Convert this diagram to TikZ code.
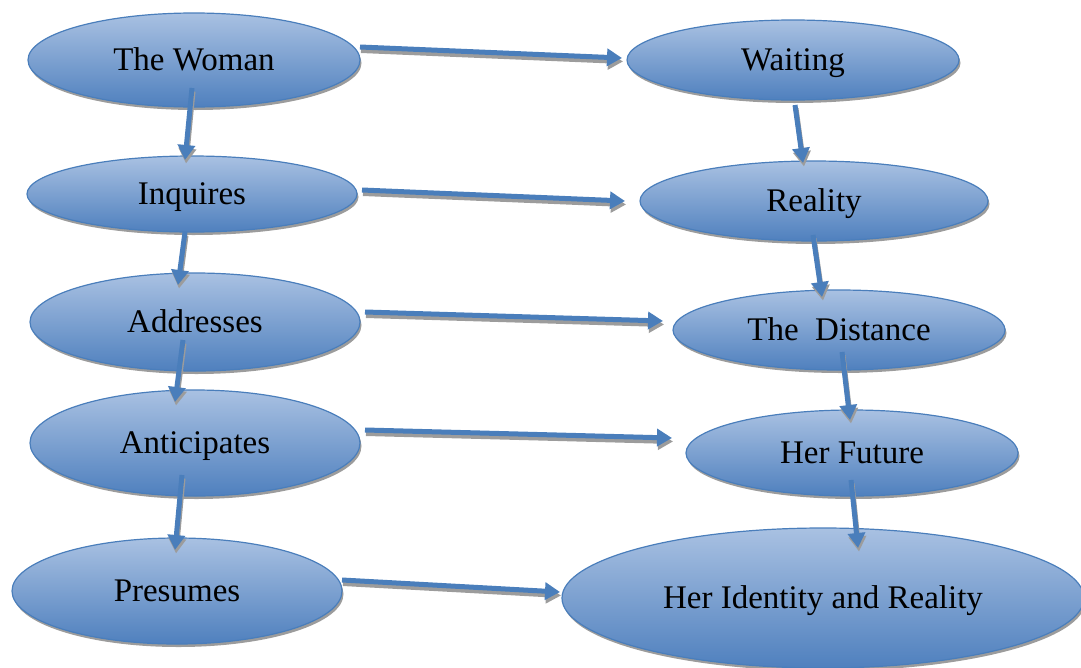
\documentclass[tikz,border=0pt]{standalone}
\usepackage{fontspec}
\setmainfont{Liberation Serif}
\usetikzlibrary{shapes.geometric,arrows.meta,shadows}
\definecolor{edgeblue}{HTML}{4A7EBB}
\definecolor{topblue}{HTML}{A9C1E2}
\definecolor{botblue}{HTML}{4F80BE}
\definecolor{shadowgray}{HTML}{9C9C9C}
\begin{document}
\begin{tikzpicture}[x=1pt,y=-1pt,
  oval/.style={ellipse, draw=edgeblue, line width=1.2pt, top color=topblue, bottom color=botblue,
    inner sep=0pt, font=\fontsize{33}{38}\selectfont, text height=21pt, text depth=1pt,
    drop shadow={shadow xshift=1.5pt, shadow yshift=-3pt, fill=shadowgray, opacity=1}},
  arr/.style={draw=edgeblue, line width=5pt, -{Triangle[width=17pt,length=15pt]},
    preaction={draw=shadowgray, line width=5pt, -{Triangle[width=17pt,length=15pt]},
      transform canvas={shift={(1pt,-3.5pt)}}}}]
\useasboundingbox (0,0) rectangle (1081,667);
\node[oval, minimum width=332pt, minimum height=94pt] (woman) at (194,60) {The Woman};
\node[oval, minimum width=332pt, minimum height=80pt] (waiting) at (793,60) {Waiting};
\node[oval, minimum width=330pt, minimum height=76pt] (inquires) at (192,194) {Inquires};
\node[oval, minimum width=348pt, minimum height=80pt] (reality) at (814,201) {Reality};
\node[oval, minimum width=330pt, minimum height=98pt] (addresses) at (195,322) {Addresses};
\node[oval, minimum width=332pt, minimum height=80pt] (distance) at (839,330) {The\ \ Distance};
\node[oval, minimum width=330pt, minimum height=106pt] (anticipates) at (195,443) {Anticipates};
\node[oval, minimum width=332pt, minimum height=86pt] (future) at (852,453) {Her Future};
\node[oval, minimum width=330pt, minimum height=106pt] (presumes) at (177,591) {Presumes};
\node[oval, minimum width=522pt, minimum height=140pt] (identity) at (823,598) {Her Identity and Reality};
% horizontal
\draw[arr] ([shift={(166,-13)}]woman.center) -- ([shift={(-171,-2)}]waiting.center);
\draw[arr] ([shift={(170,-4)}]inquires.center) -- ([shift={(-189,0)}]reality.center);
\draw[arr] ([shift={(170,-10)}]addresses.center) -- ([shift={(-176,-9)}]distance.center);
\draw[arr] ([shift={(170,-13)}]anticipates.center) -- ([shift={(-180,-15)}]future.center);
\draw[arr] ([shift={(165,-11)}]presumes.center) -- ([shift={(-263,-6)}]identity.center);
% vertical
\draw[arr] ([shift={(-2,28)}]woman.center) -- ([shift={(-7,-34)}]inquires.center);
\draw[arr] ([shift={(2,45)}]waiting.center) -- ([shift={(-11,-38)}]reality.center);
\draw[arr] ([shift={(-7,38)}]inquires.center) -- ([shift={(-17,-37)}]addresses.center);
\draw[arr] ([shift={(-1,34)}]reality.center) -- ([shift={(-17,-33)}]distance.center);
\draw[arr] ([shift={(-12,18)}]addresses.center) -- ([shift={(-20,-41)}]anticipates.center);
\draw[arr] ([shift={(3,22)}]distance.center) -- ([shift={(-2,-33)}]future.center);
\draw[arr] ([shift={(-13,32)}]anticipates.center) -- ([shift={(-2,-41)}]presumes.center);
\draw[arr] ([shift={(-1,27)}]future.center) -- ([shift={(35,-50)}]identity.center);
\end{tikzpicture}
\end{document}
